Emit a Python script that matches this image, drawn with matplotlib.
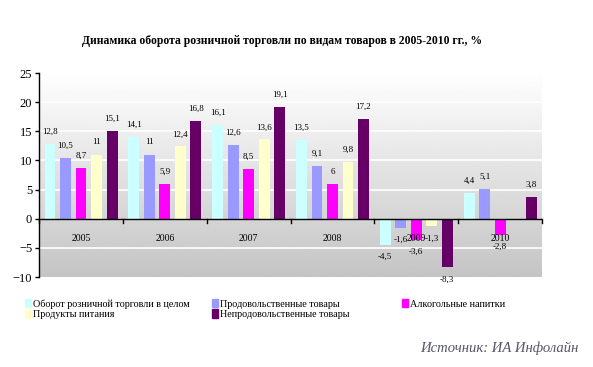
import matplotlib.pyplot as plt
import matplotlib.patches as mpatches
import numpy as np

plt.rcParams['font.family'] = ['Liberation Serif', 'DejaVu Serif']

# Data
years = ['2005', '2006', '2007', '2008', '2009', '2010']
series_names = ['Оборот розничной торговли в целом', 'Продовольственные товары',
                'Алкогольные напитки', 'Продукты питания', 'Непродовольственные товары']
total = [12.8, 14.1, 16.1, 13.5, -4.5, 4.4]
food_goods = [10.5, 11, 12.6, 9.1, -1.6, 5.1]
alcohol = [8.7, 5.9, 8.5, 6, -3.6, -2.8]
food = [11, 12.4, 13.6, 9.8, -1.3, np.nan]
nonfood = [15.1, 16.8, 19.1, 17.2, -8.3, 3.8]
series = [total, food_goods, alcohol, food, nonfood]
colors = ['#ccffff', '#9999ff', '#ff00ff', '#ffffcc', '#660066']

fig = plt.figure(figsize=(5.93, 3.67), dpi=100)
ax = fig.add_axes([0.066, 0.245, 0.848, 0.556])

# gradient background
grad = np.linspace(1.0, 0.77, 256).reshape(-1, 1)
ax.imshow(grad, cmap='gray', vmin=0, vmax=1, aspect='auto', extent=[0, 1, 0, 1],
          transform=ax.transAxes, zorder=0)
for g in [-5, 5, 10, 15, 20]:
    ax.axhline(g, color='white', lw=1.2, zorder=1)

x = np.arange(len(years))
step = 0.185
width = 0.13
for i, (vals, c) in enumerate(zip(series, colors)):
    pos = x + (i - 2) * step
    ax.bar(pos, vals, width, color=c, zorder=2, label=series_names[i])
    for p, v in zip(pos, vals):
        if np.isnan(v):
            continue
        txt = ('%g' % v).replace('.', ',')
        if v >= 0:
            ax.text(p, v + 1.4, txt, ha='center', va='bottom', fontsize=6.5, zorder=4)
        else:
            ax.text(p, v - 1.4, txt, ha='center', va='top', fontsize=6.5, zorder=4)

for xi, y in zip(x, years):
    ax.text(xi, -3.3, y, ha='center', va='center', fontsize=7, zorder=3)

ax.axhline(0, color='black', lw=1, zorder=3)
for b in np.arange(-0.5, 6.0, 1.0):
    ax.plot([b, b], [0, -0.7], color='black', lw=1, zorder=3, clip_on=False)

ax.set_xlim(-0.5, 5.5)
ax.set_ylim(-10, 25)
ax.set_yticks(range(-10, 26, 5))
ax.set_xticks([])
ax.tick_params(axis='y', labelsize=9, length=3, width=1, pad=2)
for s in ['top', 'right', 'bottom']:
    ax.spines[s].set_visible(False)
ax.spines['left'].set_linewidth(1)

fig.text(0.476, 0.888, 'Динамика оборота розничной торговли по видам товаров в 2005-2010 гг., %',
         ha='center', va='center', fontsize=8.4, fontweight='bold')

# legend in three columns
handles = [mpatches.Patch(color=c) for c in colors]
cols = [([0, 3], 25), ([1, 4], 212), ([2], 402)]
for idx, xpx in cols:
    fig.legend([handles[k] for k in idx], [series_names[k] for k in idx],
               loc='upper left', bbox_to_anchor=(xpx / 593, 1 - 299 / 367), frameon=False,
               fontsize=7.3, handlelength=0.6, handleheight=0.9, handletextpad=0.2,
               labelspacing=0.05, borderpad=0, borderaxespad=0)

fig.text(0.976, 1 - 348 / 367, 'Источник: ИА Инфолайн', ha='right', va='center',
         fontsize=10.5, style='italic', color='#555566')

fig.savefig('out.png', dpi=100)
